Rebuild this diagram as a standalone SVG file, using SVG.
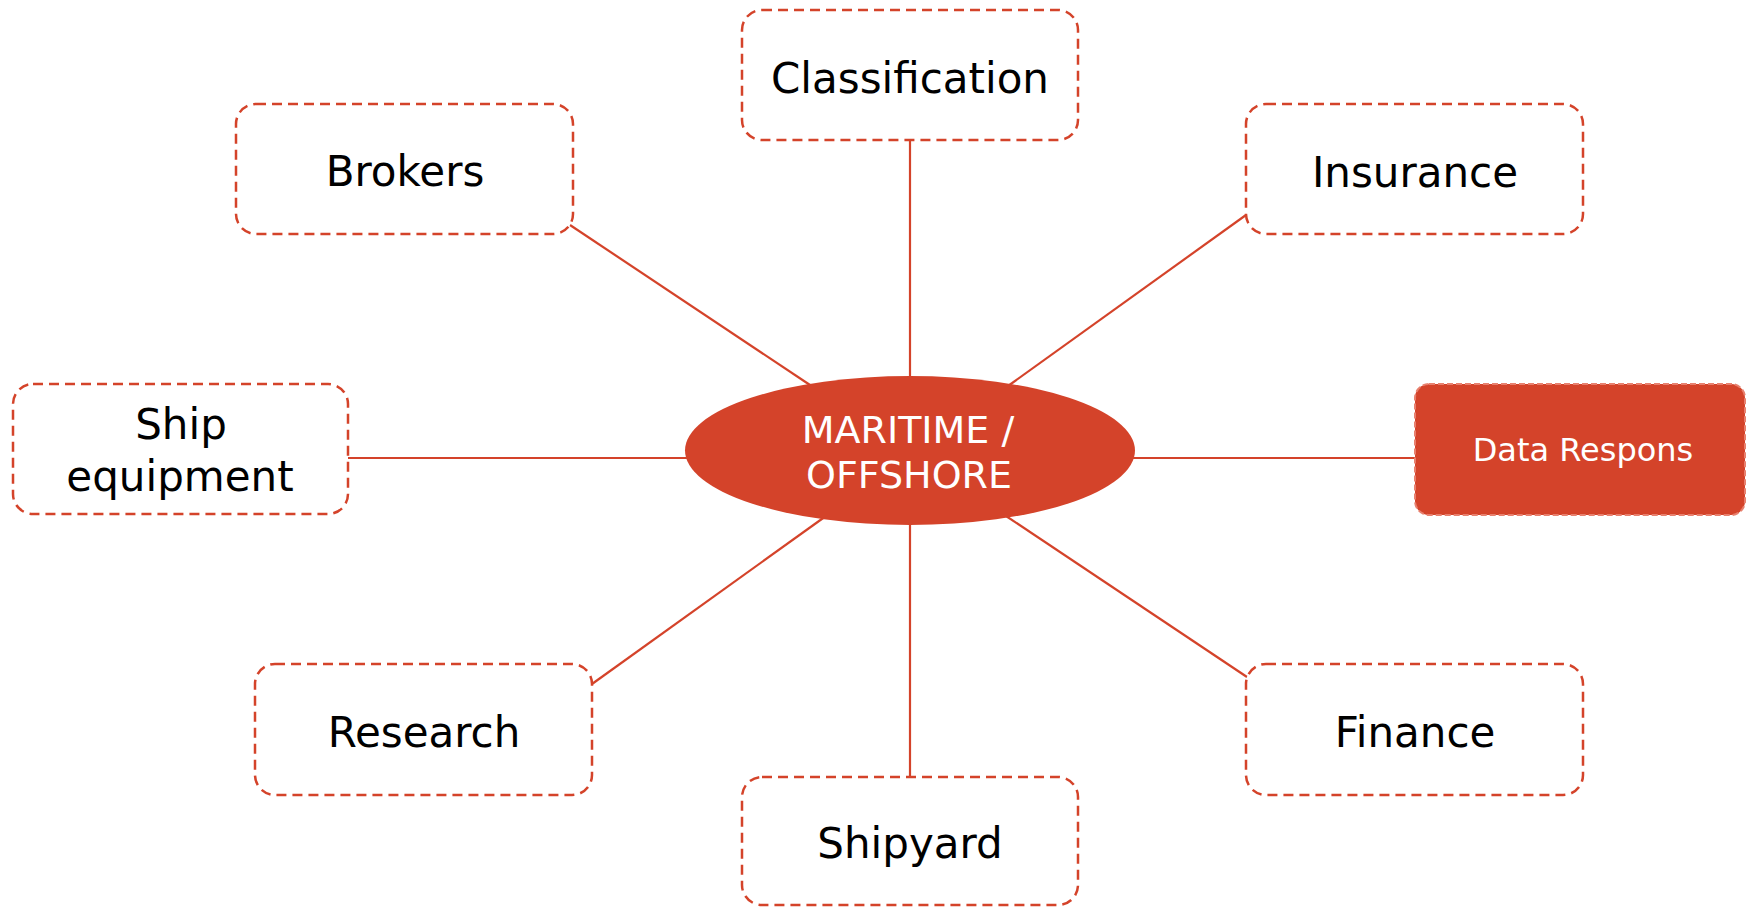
<svg xmlns="http://www.w3.org/2000/svg" width="1746" height="907" viewBox="0 0 1746 907">
<style>
.box{fill:#ffffff;stroke:#D4432A;stroke-width:2.5;stroke-dasharray:10 6}
.dr{fill:#D4432A;stroke:#E8806E;stroke-width:2;stroke-dasharray:6 3}
.lbl{font-family:"DejaVu Sans",Verdana,sans-serif;font-size:42px;fill:#000000;text-anchor:middle}
.wl{font-family:"DejaVu Sans",Verdana,sans-serif;fill:#ffffff;text-anchor:middle}
.conn line{stroke:#D4432A;stroke-width:2.2}
</style>
<rect width="1746" height="907" fill="#ffffff"/>
<g id="connectors" class="conn">
<line x1="910" y1="140" x2="910" y2="380"/>
<line x1="910" y1="520" x2="910" y2="777"/>
<line x1="348" y1="458" x2="690" y2="458"/>
<line x1="1130" y1="458" x2="1415" y2="458"/>
<line x1="570" y1="225" x2="810" y2="385"/>
<line x1="1246" y1="215" x2="1008" y2="386"/>
<line x1="592" y1="684" x2="826" y2="516"/>
<line x1="1247" y1="677" x2="1006" y2="516"/>
</g>
<g id="center">
<ellipse cx="910" cy="450.5" rx="225" ry="74.5" fill="#D4432A"/>
<text class="wl" font-size="38" x="908" y="443">MARITIME /</text>
<text class="wl" font-size="38" x="909" y="488">OFFSHORE</text>
</g>
<g id="classification">
<rect class="box" x="742" y="10" width="336" height="130" rx="20"/>
<text class="lbl" x="910" y="93">Classification</text>
</g>
<g id="brokers">
<rect class="box" x="236" y="104" width="337" height="130" rx="20"/>
<text class="lbl" x="405" y="186">Brokers</text>
</g>
<g id="insurance">
<rect class="box" x="1246" y="104" width="337" height="130" rx="20"/>
<text class="lbl" x="1415" y="187">Insurance</text>
</g>
<g id="ship-equipment">
<rect class="box" x="13" y="384" width="335" height="130" rx="20"/>
<text class="lbl" x="181" y="439">Ship</text>
<text class="lbl" x="180" y="491">equipment</text>
</g>
<g id="data-respons">
<rect class="dr" x="1415" y="384" width="330" height="131" rx="14"/>
<text class="wl" font-size="32" x="1583" y="461">Data Respons</text>
</g>
<g id="research">
<rect class="box" x="255" y="664" width="337" height="131" rx="20"/>
<text class="lbl" x="424" y="747">Research</text>
</g>
<g id="finance">
<rect class="box" x="1246" y="664" width="337" height="131" rx="20"/>
<text class="lbl" x="1415" y="747">Finance</text>
</g>
<g id="shipyard">
<rect class="box" x="742" y="777" width="336" height="128" rx="20"/>
<text class="lbl" x="910" y="858">Shipyard</text>
</g>
</svg>
